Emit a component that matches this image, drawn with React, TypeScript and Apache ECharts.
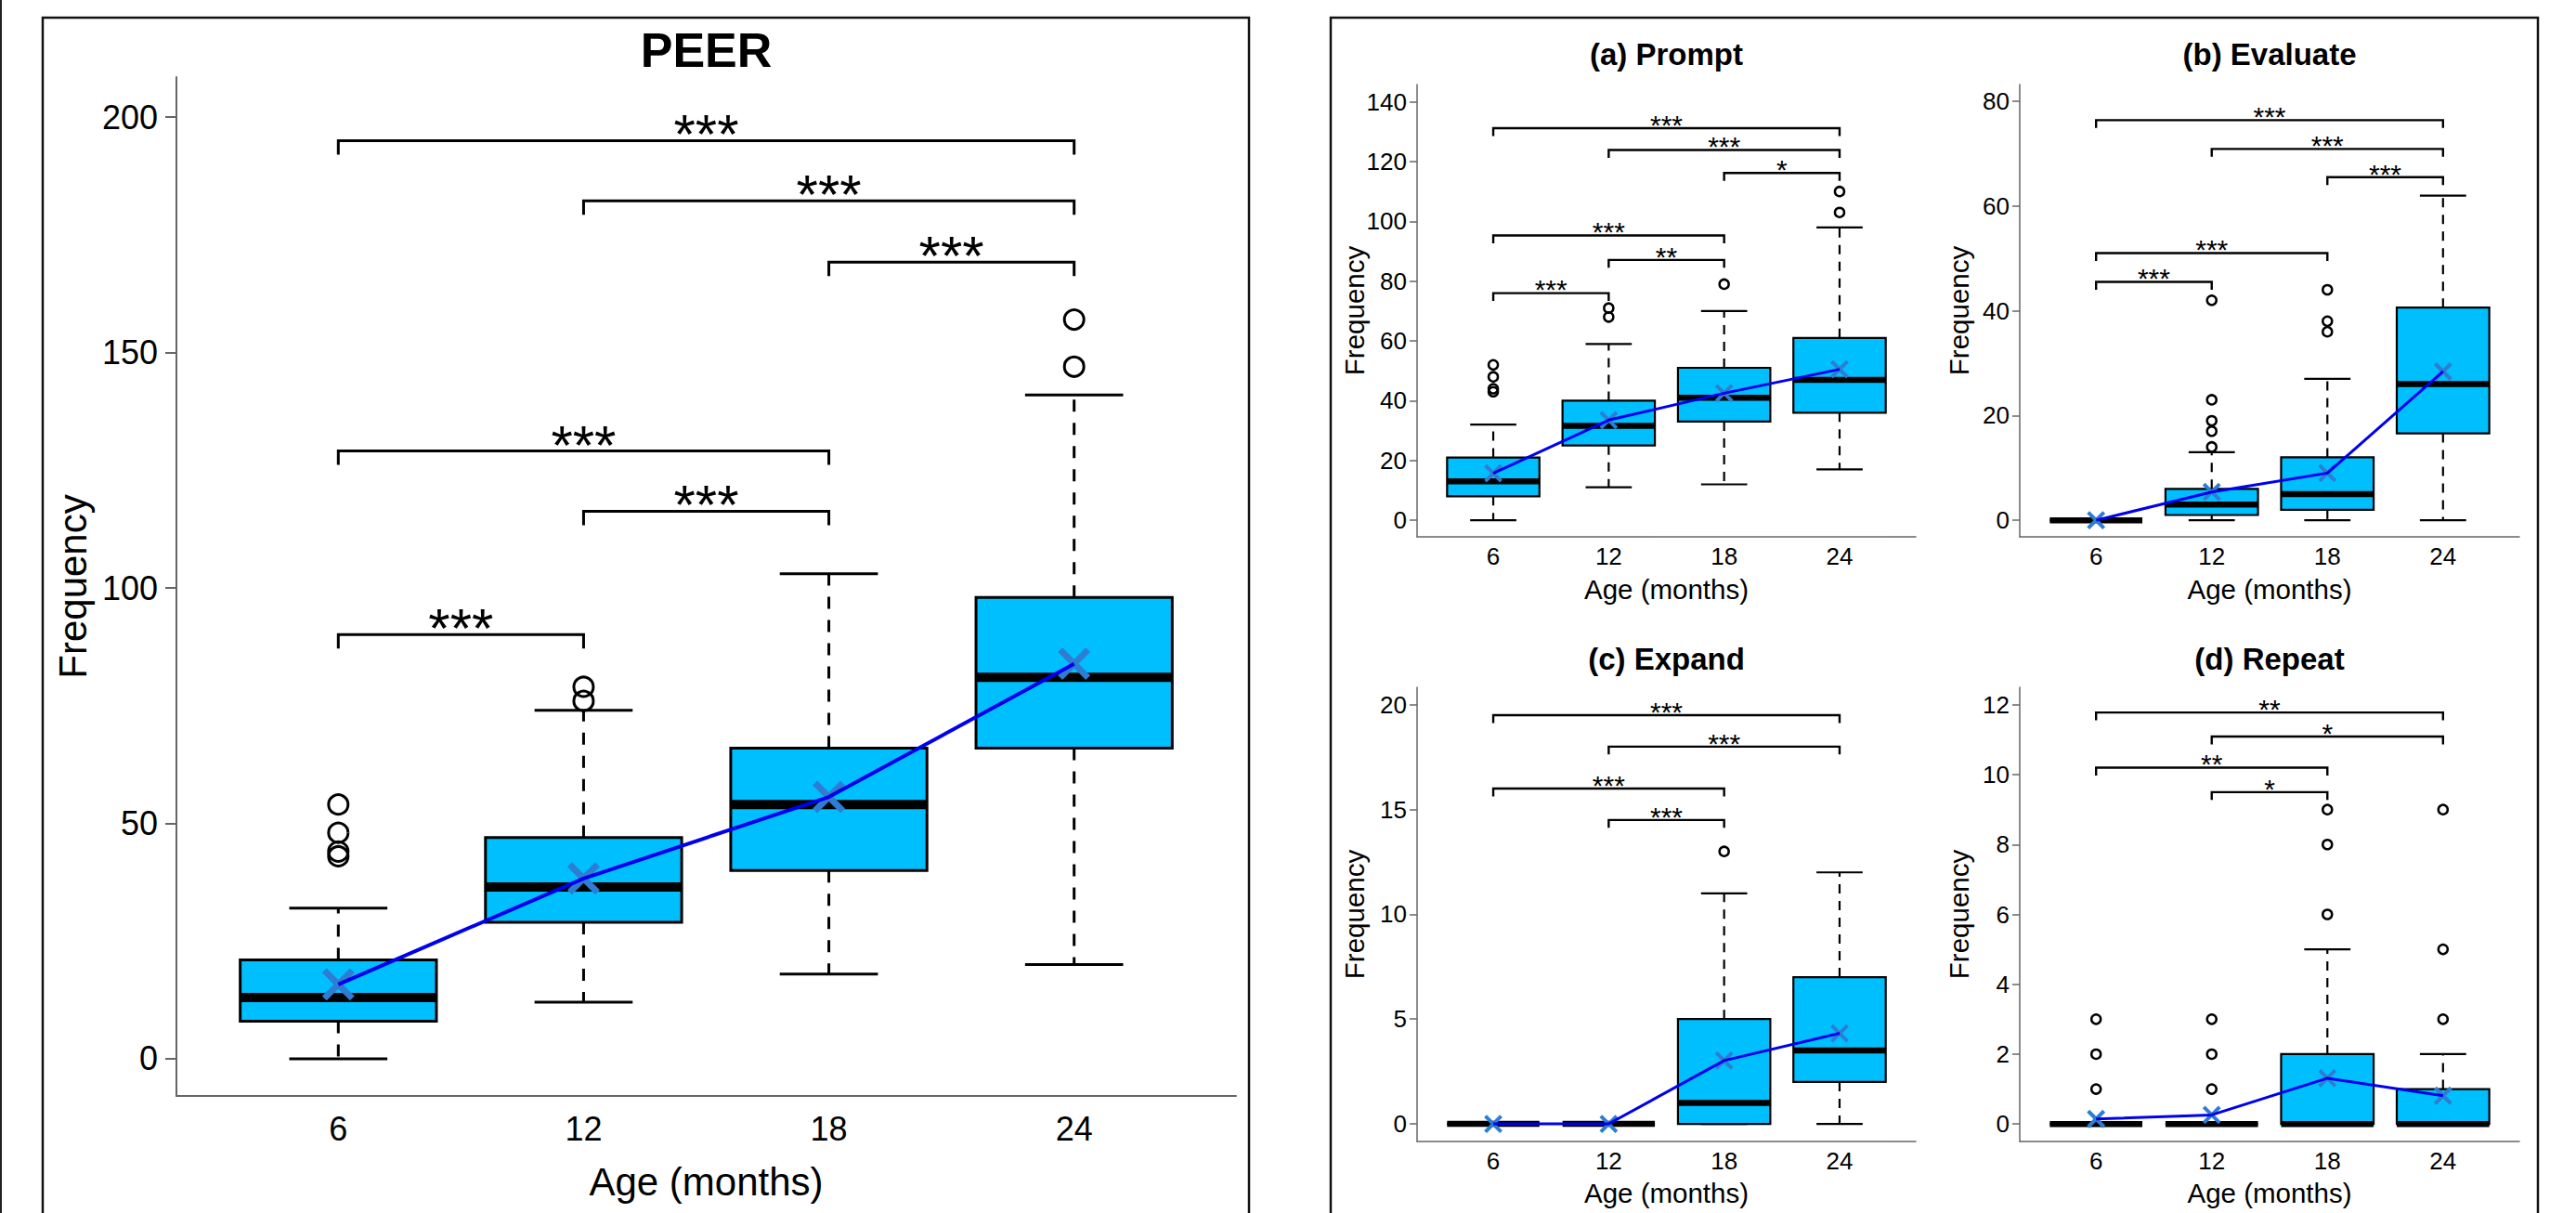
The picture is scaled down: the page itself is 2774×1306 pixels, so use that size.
import React, { useEffect, useRef } from "react";
import * as echarts from "echarts";

const ageLabels = ["6", "12", "18", "24"];

// [min, Q1, median, Q3, max] per age group
const peerStats = [[0, 8, 13, 21, 32], [12, 29, 36.5, 47, 74], [18, 40, 54, 66, 103], [20, 66, 81, 98, 141]];
const peerOutliers = [[54, 48, 44, 43], [79, 76], [], [157, 147]];
const peerMeans = [15.8, 38.3, 55.6, 83.9];
const peerSig: [number, number, number, string][] = [[1, 4, 195, "***"], [2, 4, 182.2, "***"], [3, 4, 169.2, "***"], [1, 3, 129.1, "***"], [2, 3, 116.3, "***"], [1, 2, 90.1, "***"]];
const peerTicks = [0, 50, 100, 150, 200];

const promptStats = [[0, 8, 13, 21, 32], [11, 25, 31.6, 40, 59], [12, 33, 41, 51, 70], [17, 36, 47, 61, 98]];
const promptOutliers = [[52, 48, 44, 43], [71, 68], [79], [110, 103]];
const promptMeans = [15.7, 33.5, 42.5, 50.5];
const promptSig: [number, number, number, string][] = [[1, 4, 131.2, "***"], [2, 4, 123.9, "***"], [3, 4, 116.2, "*"], [1, 3, 95.3, "***"], [2, 3, 87.1, "**"], [1, 2, 76, "***"]];
const promptTicks = [0, 20, 40, 60, 80, 100, 120, 140];

const evaluateStats = [[0, 0, 0, 0, 0], [0, 1, 3, 6, 13], [0, 2, 5, 12, 27], [0, 16.6, 26, 40.6, 62]];
const evaluateOutliers = [[], [14, 17, 19, 23, 42], [36, 38, 44], []];
const evaluateMeans = [0, 5.4, 9.0, 28.4];
const evaluateSig: [number, number, number, string][] = [[1, 4, 76.4, "***"], [2, 4, 70.9, "***"], [3, 4, 65.5, "***"], [1, 3, 51, "***"], [1, 2, 45.5, "***"]];
const evaluateTicks = [0, 20, 40, 60, 80];

const expandStats = [[0, 0, 0, 0, 0], [0, 0, 0, 0, 0], [0, 0, 1, 5, 11], [0, 2, 3.5, 7, 12]];
const expandOutliers = [[], [], [13], []];
const expandMeans = [0, 0, 3.02, 4.32];
const expandSig: [number, number, number, string][] = [[1, 4, 19.5, "***"], [2, 4, 18, "***"], [1, 3, 16, "***"], [2, 3, 14.5, "***"]];
const expandTicks = [0, 5, 10, 15, 20];

const repeatStats = [[0, 0, 0, 0, 0], [0, 0, 0, 0, 0], [0, 0, 0, 2, 5], [0, 0, 0, 1, 2]];
const repeatOutliers = [[1, 2, 3], [1, 2, 3], [6, 8, 9], [3, 5, 9]];
const repeatMeans = [0.145, 0.26, 1.31, 0.81];
const repeatSig: [number, number, number, string][] = [[1, 4, 11.78, "**"], [2, 4, 11.09, "*"], [1, 3, 10.2, "**"], [2, 3, 9.5, "*"]];
const repeatTicks = [0, 2, 4, 6, 8, 10, 12];

const FONT = '"Liberation Sans", Arial, sans-serif';
const BOX_FILL = "#00BFFF";
const CROSS_COLOR = "#2D7DD2";
const LINE_COLOR = "#0000EE";
const AXIS_COLOR = "#666";

const bigStyle = {
  border: 3, median: 10, whisker: 3, dash: [13, 12], cap: 3,
  outSize: 21, outW: 3, cross: 15, crossW: 7, lineW: 4,
  sigW: 3, sigTick: 15, sigFont: 60, sigOff: 6.5,
  tickFont: 36, tickLen: 12, yMargin: 20, xMargin: 17, axisW: 2,
  titleFont: 52, nameFont: 42,
};
const smallStyle = {
  border: 2.2, median: 6.5, whisker: 2.2, dash: [10, 8], cap: 2.2,
  outSize: 10, outW: 2.5, cross: 8.5, crossW: 4, lineW: 3,
  sigW: 2.4, sigTick: 8.5, sigFont: 30, sigOff: 3.7,
  tickFont: 26, tickLen: 8, yMargin: 11, xMargin: 8, axisW: 1.5,
  titleFont: 33, nameFont: 29.5,
};

const panels = [
  { title: "PEER", stats: peerStats, outliers: peerOutliers, means: peerMeans, sig: peerSig, ticks: peerTicks, yMin: -7.9, yMax: 208.5, grid: { left: 190, top: 83, width: 1141, height: 1097 }, st: bigStyle, titleY: 54, xNameY: 1272, yNameX: 78 },
  { title: "(a) Prompt", stats: promptStats, outliers: promptOutliers, means: promptMeans, sig: promptSig, ticks: promptTicks, yMin: -5.56, yMax: 145.8, grid: { left: 1526, top: 91, width: 537, height: 487 }, st: smallStyle, titleY: 58, xNameY: 634, yNameX: 1458 },
  { title: "(b) Evaluate", stats: evaluateStats, outliers: evaluateOutliers, means: evaluateMeans, sig: evaluateSig, ticks: evaluateTicks, yMin: -3.17, yMax: 83.2, grid: { left: 2175, top: 91, width: 538, height: 487 }, st: smallStyle, titleY: 58, xNameY: 634, yNameX: 2109 },
  { title: "(c) Expand", stats: expandStats, outliers: expandOutliers, means: expandMeans, sig: expandSig, ticks: expandTicks, yMin: -0.84, yMax: 20.83, grid: { left: 1526, top: 740, width: 537, height: 489 }, st: smallStyle, titleY: 709, xNameY: 1284, yNameX: 1458 },
  { title: "(d) Repeat", stats: repeatStats, outliers: repeatOutliers, means: repeatMeans, sig: repeatSig, ticks: repeatTicks, yMin: -0.5, yMax: 12.5, grid: { left: 2175, top: 740, width: 538, height: 489 }, st: smallStyle, titleY: 709, xNameY: 1284, yNameX: 2109 },
];

function buildOption() {
  const grids: any[] = [];
  const xAxes: any[] = [];
  const yAxes: any[] = [];
  const series: any[] = [];
  const graphics: any[] = [];

  graphics.push({ type: "line", shape: { x1: 1, y1: 0, x2: 1, y2: 1306 }, style: { stroke: "#222", lineWidth: 2 } });
  graphics.push({ type: "rect", shape: { x: 46, y: 19, width: 1299, height: 1320 }, style: { fill: "none", stroke: "#111", lineWidth: 2.5 } });
  graphics.push({ type: "rect", shape: { x: 1433, y: 19, width: 1300, height: 1320 }, style: { fill: "none", stroke: "#111", lineWidth: 2.5 } });

  panels.forEach((p, gi) => {
    const st = p.st;
    grids.push({ ...p.grid, containLabel: false, outerBoundsMode: "none" });
    xAxes.push({
      type: "value", gridIndex: gi, min: 0.34, max: 4.66,
      axisLine: { show: true, onZero: false, lineStyle: { color: AXIS_COLOR, width: st.axisW } },
      axisTick: { show: false },
      splitLine: { show: false },
      axisLabel: {
        customValues: [1, 2, 3, 4],
        formatter: (v: number) => ageLabels[Math.round(v) - 1],
        fontSize: st.tickFont, fontFamily: FONT, color: "#000", margin: st.xMargin,
      },
    });
    yAxes.push({
      type: "value", gridIndex: gi, min: p.yMin, max: p.yMax,
      axisLine: { show: true, onZero: false, lineStyle: { color: AXIS_COLOR, width: st.axisW } },
      axisTick: { show: true, customValues: p.ticks, length: st.tickLen, lineStyle: { color: AXIS_COLOR, width: st.axisW } },
      splitLine: { show: false },
      axisLabel: { customValues: p.ticks, fontSize: st.tickFont, fontFamily: FONT, color: "#000", margin: st.yMargin },
    });

    // boxes
    series.push({
      type: "custom", xAxisIndex: gi, yAxisIndex: gi, z: 2, silent: true,
      data: p.stats.map((s, i) => [i + 1, ...s]),
      encode: { x: 0, y: [1, 2, 3, 4, 5] },
      renderItem: (params: any, api: any) => {
        const x = api.value(0);
        const mn = api.value(1), q1 = api.value(2), md = api.value(3), q3 = api.value(4), mx = api.value(5);
        const c = (xx: number, yy: number) => api.coord([xx, yy]);
        const tl = c(x - 0.4, q3), br = c(x + 0.4, q1);
        const top = c(x, mx), q3p = c(x, q3), q1p = c(x, q1), bot = c(x, mn);
        const capL = c(x - 0.2, 0)[0], capR = c(x + 0.2, 0)[0];
        const mdL = c(x - 0.4, md), mdR = c(x + 0.4, md);
        const wStyle = { stroke: "#000", lineWidth: st.whisker, lineDash: st.dash, lineCap: "butt" };
        const cStyle = { stroke: "#000", lineWidth: st.cap, lineCap: "butt" };
        return {
          type: "group",
          children: [
            { type: "line", shape: { x1: top[0], y1: q3p[1], x2: top[0], y2: top[1] }, style: wStyle },
            { type: "line", shape: { x1: bot[0], y1: q1p[1], x2: bot[0], y2: bot[1] }, style: wStyle },
            { type: "line", shape: { x1: capL, y1: top[1], x2: capR, y2: top[1] }, style: cStyle },
            { type: "line", shape: { x1: capL, y1: bot[1], x2: capR, y2: bot[1] }, style: cStyle },
            { type: "rect", shape: { x: tl[0], y: tl[1], width: br[0] - tl[0], height: br[1] - tl[1] }, style: { fill: BOX_FILL, stroke: "#000", lineWidth: st.border } },
            { type: "line", shape: { x1: mdL[0], y1: mdL[1], x2: mdR[0], y2: mdR[1] }, style: { stroke: "#000", lineWidth: st.median, lineCap: "butt" } },
          ],
        };
      },
    });

    // outliers
    const outData: number[][] = [];
    p.outliers.forEach((arr, i) => arr.forEach((v) => outData.push([i + 1, v])));
    series.push({
      type: "scatter", xAxisIndex: gi, yAxisIndex: gi, z: 3, silent: true,
      symbol: "circle", symbolSize: st.outSize,
      itemStyle: { color: "rgba(255,255,255,0)", borderColor: "#000", borderWidth: st.outW, opacity: 1 },
      data: outData,
    });

    // mean crosses
    series.push({
      type: "custom", xAxisIndex: gi, yAxisIndex: gi, z: 4, silent: true,
      data: p.means.map((m, i) => [i + 1, m]),
      encode: { x: 0, y: 1 },
      renderItem: (params: any, api: any) => {
        const pt = api.coord([api.value(0), api.value(1)]);
        const s = st.cross;
        const style = { stroke: CROSS_COLOR, lineWidth: st.crossW, lineCap: "butt" };
        return {
          type: "group",
          children: [
            { type: "line", shape: { x1: pt[0] - s, y1: pt[1] - s, x2: pt[0] + s, y2: pt[1] + s }, style },
            { type: "line", shape: { x1: pt[0] - s, y1: pt[1] + s, x2: pt[0] + s, y2: pt[1] - s }, style },
          ],
        };
      },
    });

    // mean line
    series.push({
      type: "line", xAxisIndex: gi, yAxisIndex: gi, z: 5, silent: true,
      symbol: "none", showSymbol: false,
      lineStyle: { color: LINE_COLOR, width: st.lineW },
      data: p.means.map((m, i) => [i + 1, m]),
    });

    // significance brackets
    const labels = p.sig.map((s) => s[3]);
    series.push({
      type: "custom", xAxisIndex: gi, yAxisIndex: gi, z: 3, silent: true,
      data: p.sig.map((s) => [s[0], s[1], s[2]]),
      encode: { x: [0, 1], y: 2 },
      renderItem: (params: any, api: any) => {
        const a = api.coord([api.value(0), api.value(2)]);
        const b = api.coord([api.value(1), api.value(2)]);
        const t = st.sigTick;
        return {
          type: "group",
          children: [
            { type: "polyline", shape: { points: [[a[0], a[1] + t], [a[0], a[1]], [b[0], b[1]], [b[0], b[1] + t]] }, style: { stroke: "#000", fill: "none", lineWidth: st.sigW } },
            {
              type: "text", x: (a[0] + b[0]) / 2, y: a[1] - st.sigOff,
              style: { text: labels[params.dataIndex], fill: "#000", font: `${st.sigFont}px ${FONT}`, align: "center", verticalAlign: "middle", textAlign: "center", textVerticalAlign: "middle" },
            },
          ],
        };
      },
    });

    const cx = p.grid.left + p.grid.width / 2;
    const cy = p.grid.top + p.grid.height / 2;
    graphics.push({ type: "text", x: cx, y: p.titleY, style: { text: p.title, font: `bold ${st.titleFont}px ${FONT}`, fill: "#000", align: "center", verticalAlign: "middle", textAlign: "center", textVerticalAlign: "middle" } });
    graphics.push({ type: "text", x: cx, y: p.xNameY, style: { text: "Age (months)", font: `${st.nameFont}px ${FONT}`, fill: "#000", align: "center", verticalAlign: "middle", textAlign: "center", textVerticalAlign: "middle" } });
    graphics.push({ type: "text", x: p.yNameX, y: cy, rotation: Math.PI / 2, style: { text: "Frequency", font: `${st.nameFont}px ${FONT}`, fill: "#000", align: "center", verticalAlign: "middle", textAlign: "center", textVerticalAlign: "middle" } });
  });

  return {
    animation: false,
    backgroundColor: "#fff",
    grid: grids,
    xAxis: xAxes,
    yAxis: yAxes,
    series,
    graphic: { elements: graphics },
  };
}

export default function App() {
  const ref = useRef<HTMLDivElement>(null);
  useEffect(() => {
    if (!ref.current) return;
    const chart = echarts.init(ref.current, undefined, { renderer: "svg" });
    chart.setOption(buildOption() as any);
    return () => chart.dispose();
  }, []);
  return <div ref={ref} style={{ position: "fixed", left: 0, top: 0, width: 2774, height: 1306, background: "#fff" }} />;
}
